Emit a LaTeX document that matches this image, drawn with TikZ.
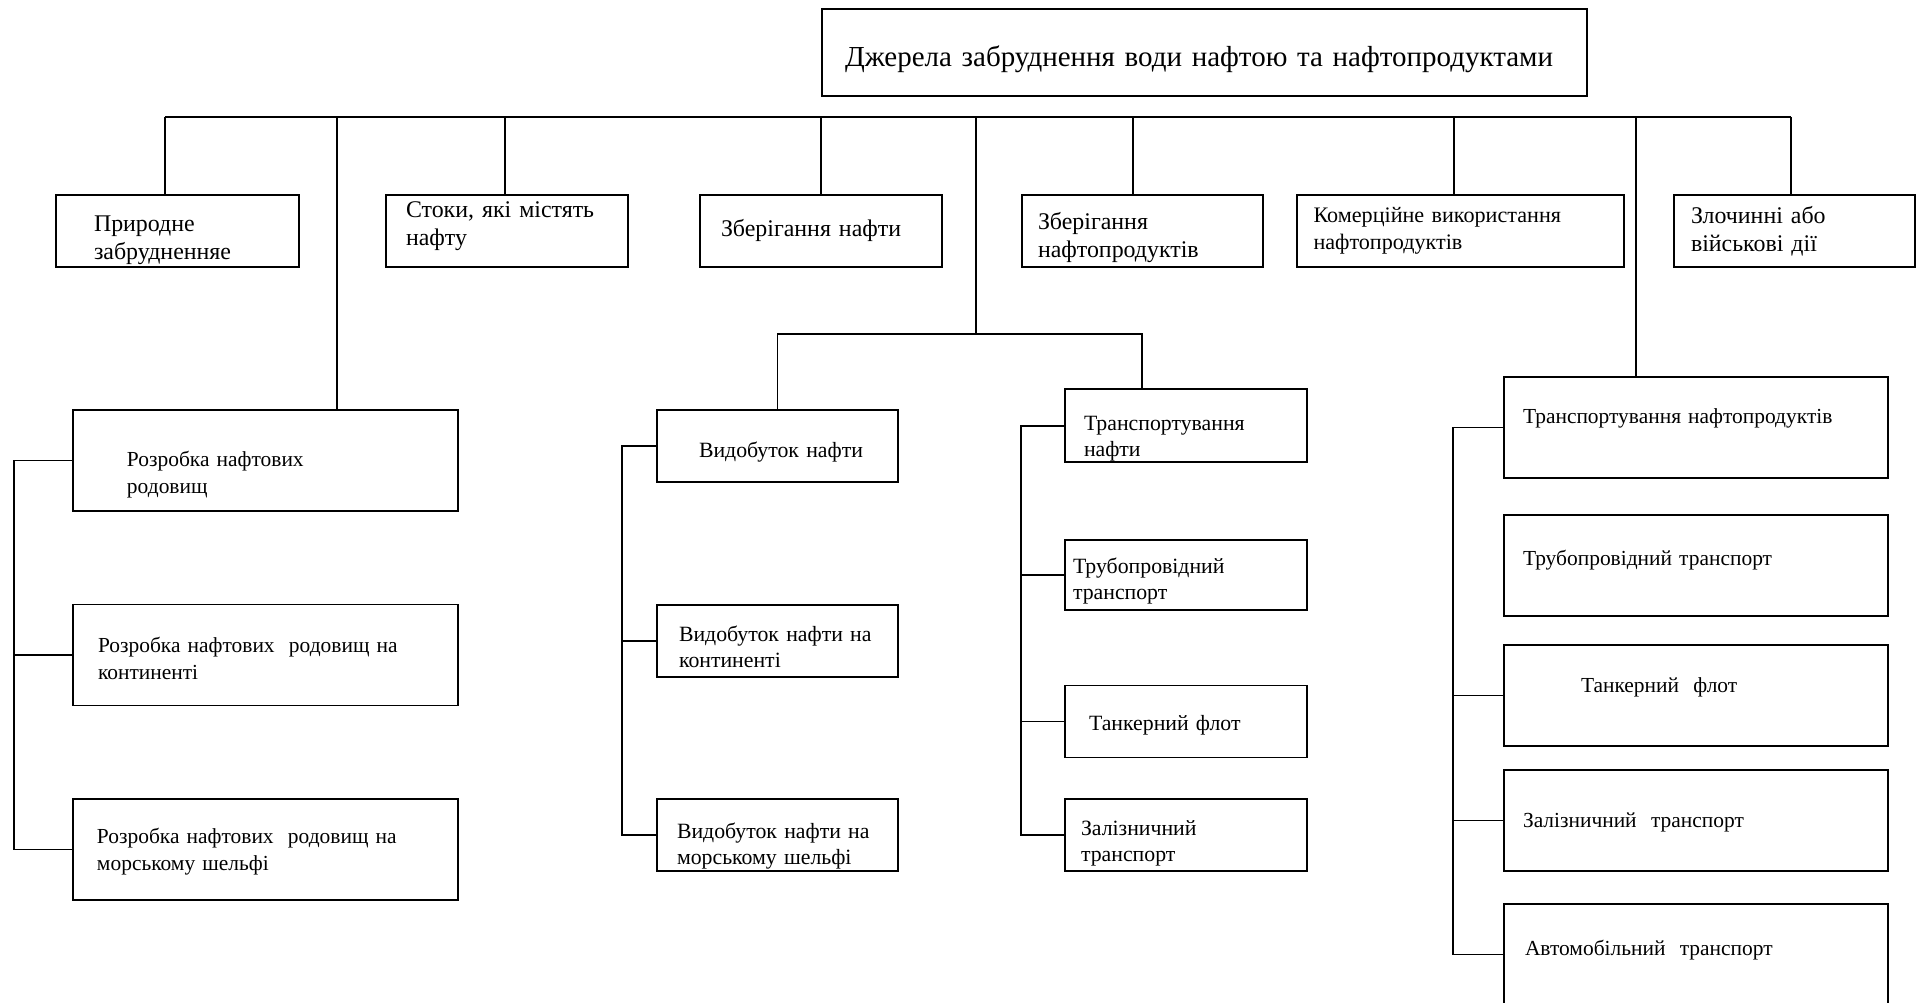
\documentclass[tikz,border=0pt]{standalone}
\usepackage{fontspec}
\setmainfont{Liberation Serif}
\usetikzlibrary{positioning}

\begin{document}
\begin{tikzpicture}[
    box/.style={draw, line width=0.55pt, align=left, inner ysep=0.4pt},
    toptxt/.style={font=\fontsize{8.25}{9.5}\selectfont},
    cattxt/.style={font=\fontsize{6.8}{7.9}\selectfont},
    devtxt/.style={font=\fontsize{6.1}{7.6}\selectfont},
    subtxt/.style={font=\fontsize{6.2}{7.4}\selectfont, text height=#1},
    subtxt/.default=0.3cm,
    prodtxt/.style={font=\fontsize{6.1}{7}\selectfont, text height=0.18cm, text depth=#1},
    prodtxt/.default=0.25cm,
    link/.style={line width=0.55pt}
]
    \useasboundingbox (0,0) rectangle (19.19,-10.03);
    \clip (0,0) rectangle (19.19,-10.03);

    % верхній блок
    \node[box, toptxt, minimum width=7.65cm, minimum height=0.87cm, text width=7.19cm, inner xsep=0.23cm, text height=0.36cm, text depth=0.07cm] (top) at (12.045,-0.525) {Джерела забруднення води нафтою та нафтопродуктами};

    % перший рівень
    \node[box, cattxt, minimum width=2.43cm, minimum height=0.72cm, text width=1.67cm, inner xsep=0.38cm, text height=0.32cm, text depth=0.3cm] (nat) at (1.775,-2.31) {Природне\\забрудненняе};
    \node[box, cattxt, minimum width=2.42cm, minimum height=0.72cm, text width=2.02cm, inner xsep=0.20cm, text height=0.04cm, text depth=0.3cm] (waste) at (5.07,-2.31) {Стоки, які містять\\нафту};
    \node[box, cattxt, minimum width=2.42cm, minimum height=0.72cm, text width=2.00cm, inner xsep=0.21cm] (stoil) at (8.21,-2.31) {Зберігання нафти};
    \node[box, cattxt, minimum width=2.41cm, minimum height=0.72cm, text width=2.09cm, inner xsep=0.16cm, text height=0.27cm, text depth=0.3cm] (stprod) at (11.425,-2.31) {Зберігання\\нафтопродуктів};
    \node[box, cattxt, font=\fontsize{6.3}{7.6}\selectfont, minimum width=3.27cm, minimum height=0.72cm, text width=2.94cm, inner xsep=0.165cm] (comm) at (14.605,-2.31) {Комерційне використання\\нафтопродуктів};
    \node[box, cattxt, minimum width=2.41cm, minimum height=0.72cm, text width=2.07cm, inner xsep=0.17cm] (crime) at (17.945,-2.31) {Злочинні або\\військові дії};

    % розробка родовищ
    \node[box, devtxt, minimum width=3.85cm, minimum height=1.01cm, text width=2.77cm, inner xsep=0.54cm, text height=0.42cm, text depth=0.3cm] (dev) at (2.655,-4.605) {Розробка нафтових\\родовищ};
    \node[box, devtxt, minimum width=3.85cm, minimum height=1.01cm, text width=3.35cm, inner xsep=0.25cm, text height=0.26cm, text depth=0.3cm] (devland) at (2.655,-6.55) {Розробка нафтових\ \ родовищ на\\континенті};
    \node[box, devtxt, minimum width=3.85cm, minimum height=1.01cm, text width=3.37cm, inner xsep=0.24cm, text height=0.19cm, text depth=0.3cm] (devsea) at (2.655,-8.495) {Розробка нафтових\ \ родовищ на\\морському шельфі};

    % видобуток нафти
    \node[box, subtxt=0.28cm, minimum width=2.41cm, minimum height=0.72cm, text width=1.57cm, inner xsep=0.42cm] (ext) at (7.775,-4.456) {Видобуток~нафти};
    \node[box, subtxt=0.28cm, minimum width=2.41cm, minimum height=0.72cm, text width=1.97cm, inner xsep=0.22cm] (extland) at (7.775,-6.406) {Видобуток~нафти~на\\континенті};
    \node[box, subtxt=0.36cm, minimum width=2.41cm, minimum height=0.72cm, text width=2.01cm, inner xsep=0.20cm] (extsea) at (7.775,-8.354) {Видобуток~нафти~на\\морському~шельфі};

    % транспортування нафти
    \node[box, subtxt=0.4cm, minimum width=2.42cm, minimum height=0.72cm, text width=2.04cm, inner xsep=0.19cm] (trn) at (11.86,-4.257) {Транспортування\\нафти};
    \node[box, subtxt=0.28cm, minimum width=2.42cm, minimum height=0.70cm, text width=2.26cm, inner xsep=0.08cm] (trnpipe) at (11.86,-5.752) {Трубопровідний\\транспорт};
    \node[box, subtxt=0.23cm, minimum width=2.42cm, minimum height=0.72cm, text width=1.94cm, inner xsep=0.24cm] (trntank) at (11.86,-7.215) {Танкерний флот};
    \node[box, subtxt, minimum width=2.42cm, minimum height=0.72cm, text width=2.10cm, inner xsep=0.16cm] (trnrail) at (11.86,-8.354) {Залізничний\\транспорт};

    % транспортування нафтопродуктів
    \node[box, prodtxt, minimum width=3.84cm, minimum height=1.01cm, text width=3.46cm, inner xsep=0.19cm] (trp) at (16.96,-4.275) {Транспортування нафтопродуктів};
    \node[box, prodtxt=0.17cm, minimum width=3.84cm, minimum height=1.01cm, text width=3.46cm, inner xsep=0.19cm] (trppipe) at (16.96,-5.655) {Трубопровідний транспорт};
    \node[box, prodtxt=0.23cm, minimum width=3.84cm, minimum height=1.01cm, text width=2.30cm, inner xsep=0.77cm] (trptank) at (16.96,-6.955) {Танкерний\ \ флот};
    \node[box, prodtxt=0.04cm, minimum width=3.84cm, minimum height=1.01cm, text width=3.46cm, inner xsep=0.19cm] (trprail) at (16.96,-8.205) {Залізничний\ \ транспорт};
    \node[box, prodtxt=0.15cm, minimum width=3.84cm, minimum height=1.01cm, text width=3.42cm, inner xsep=0.21cm] (trpcar) at (16.96,-9.545) {Автомобільний\ \ транспорт};

    % шина та відгалуження
    \coordinate (busL) at (1.65,-1.17);
    \coordinate (busR) at (17.91,-1.17);
    \coordinate (bdev) at (3.37,-1.17);
    \coordinate (bwaste) at (5.05,-1.17);
    \coordinate (bstoil) at (8.21,-1.17);
    \coordinate (bmid) at (9.76,-1.17);
    \coordinate (bstprod) at (11.33,-1.17);
    \coordinate (bcomm) at (14.54,-1.17);
    \coordinate (btrp) at (16.36,-1.17);
    \coordinate (fork) at (9.76,-3.34);

    \draw[link] (busL) -- (busR);
    \draw[link] (busL) -- (busL |- nat.north);
    \draw[link] (bdev) -- (bdev |- dev.north);
    \draw[link] (bwaste) -- (bwaste |- waste.north);
    \draw[link] (bstoil) -- (bstoil |- stoil.north);
    \draw[link] (bmid) -- (fork);
    \draw[link] (bstprod) -- (bstprod |- stprod.north);
    \draw[link] (bcomm) -- (bcomm |- comm.north);
    \draw[link] (btrp) -- (btrp |- trp.north);
    \draw[link] (busR) -- (busR |- crime.north);
    \draw[link] (ext.north) |- (fork) -| ([xshift=-0.44cm]trn.north);

    % бічні лінії
    \draw[link] (dev.west) -- ++(-0.58,0) |- (devsea.west);
    \draw[link] (devland.west) -- ++(-0.58,0);
    \draw[link] (ext.west) -- ++(-0.34,0) |- (extsea.west);
    \draw[link] (extland.west) -- ++(-0.34,0);
    \draw[link] (trn.west) -- ++(-0.43,0) |- (trnrail.west);
    \draw[link] (trnpipe.west) -- ++(-0.43,0);
    \draw[link] (trntank.west) -- ++(-0.43,0);
    \draw[link] (trp.west) -- ++(-0.5,0) |- (trpcar.west);
    \draw[link] (trptank.west) -- ++(-0.5,0);
    \draw[link] (trprail.west) -- ++(-0.5,0);
\end{tikzpicture}
\end{document}
